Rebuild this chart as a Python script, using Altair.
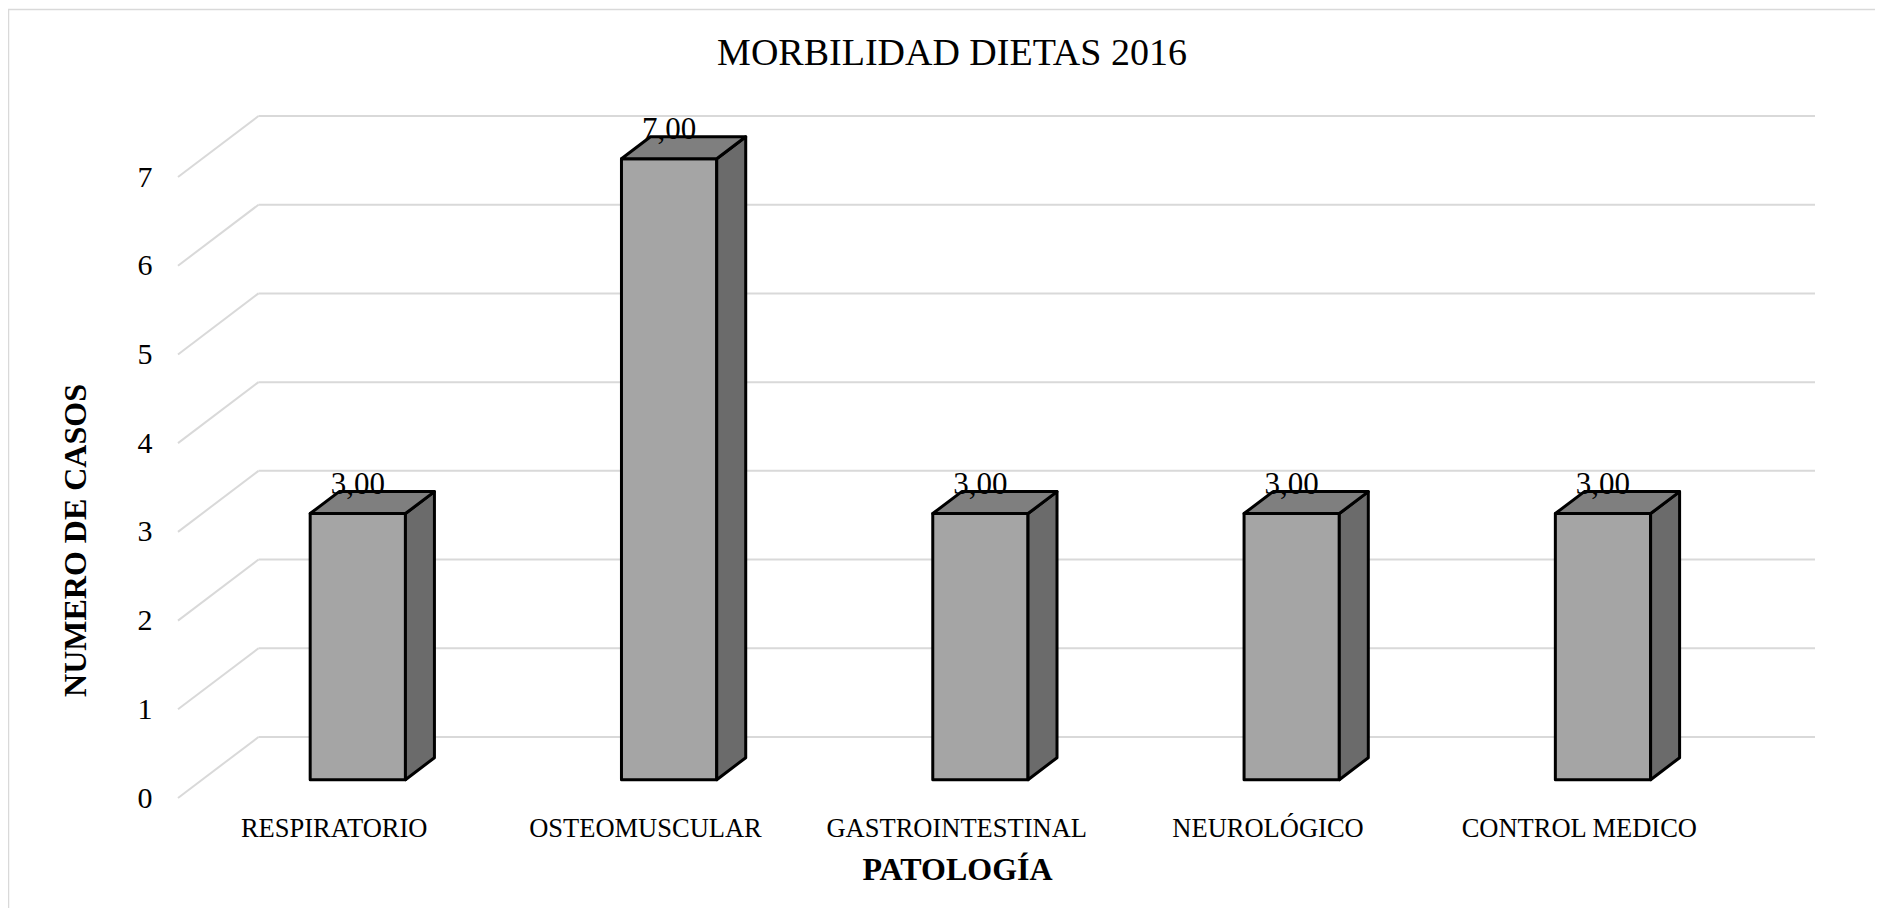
import json
import altair as alt
import pandas as pd

# ---------------- data ----------------
CATEGORIES = ["RESPIRATORIO", "OSTEOMUSCULAR", "GASTROINTESTINAL", "NEUROLÓGICO", "CONTROL MEDICO"]
VALUES = [3, 7, 3, 3, 3]
Y_TICKS = [0, 1, 2, 3, 4, 5, 6, 7]
TITLE = "MORBILIDAD DIETAS 2016"
X_TITLE = "PATOLOGÍA"
Y_TITLE = "NUMERO DE CASOS"

# ---------------- pseudo-3D geometry (style, in data units) ----------------
DX, DY = 0.2587, 0.688        # depth of the floor (x units, y units)
F0, F1 = 0.30, 0.66           # bar front / back position inside the depth
HW = 0.153                    # half width of a bar
XMIN = -0.5
XMAX = len(CATEGORIES) - 0.5 + DX
YMAX = max(Y_TICKS) + DY
W, H = 1637, 682
FONT = "Liberation Serif"

# faces of each bar as polygons (area marks)
rows = []
for i, v in enumerate(VALUES):
    xl, xr = i - HW, i + HW
    ax0, ay0 = F0 * DX, F0 * DY
    ax1, ay1 = F1 * DX, F1 * DY
    rows += [
        dict(face="front", id=f"{i}a", x=xl + ax0, y=v + ay0, y2=ay0),
        dict(face="front", id=f"{i}a", x=xr + ax0, y=v + ay0, y2=ay0),
        dict(face="side", id=f"{i}b", x=xr + ax0, y=v + ay0, y2=ay0),
        dict(face="side", id=f"{i}b", x=xr + ax1, y=v + ay1, y2=ay1),
        dict(face="top", id=f"{i}c", x=xl + ax0, y=v + ay0, y2=v + ay0),
        dict(face="top", id=f"{i}c", x=xl + ax1, y=v + ay1, y2=v + ay0),
        dict(face="top", id=f"{i}c", x=xr + ax0, y=v + ay1, y2=v + ay0),
        dict(face="top", id=f"{i}c", x=xr + ax1, y=v + ay1, y2=v + ay1),
    ]
faces = pd.DataFrame(rows)

labels = pd.DataFrame({
    "x": [i + F0 * DX for i in range(len(VALUES))],
    "y": [v + F0 * DY for v in VALUES],
    "txt": [f"{v:.2f}".replace(".", ",") for v in VALUES],
})

grid_back = pd.DataFrame({
    "x": [XMIN + DX] * len(Y_TICKS),
    "x2": [XMAX] * len(Y_TICKS),
    "y": [k + DY for k in Y_TICKS],
})
grid_side = pd.DataFrame({
    "x": [XMIN] * len(Y_TICKS),
    "x2": [XMIN + DX] * len(Y_TICKS),
    "y": Y_TICKS,
    "y2": [k + DY for k in Y_TICKS],
})

# ---------------- scales & axes ----------------
XS = alt.Scale(domain=[XMIN, XMAX], nice=False, zero=False)
YS = alt.Scale(domain=[0, YMAX], nice=False, zero=True)

X_AX = alt.Axis(
    values=list(range(len(CATEGORIES))),
    labelExpr=json.dumps(CATEGORIES, ensure_ascii=False) + "[datum.value]",
    domain=False, ticks=False, grid=False,
    labelFont=FONT, labelFontSize=26.5, labelColor="black", labelPadding=17,
    labelFlush=False, labelOverlap=False, labelBound=False, labelLimit=0,
    title=X_TITLE, titleFont=FONT, titleFontSize=32, titleFontWeight="bold",
    titleColor="black", titlePadding=13, titleX=779,
)
Y_AX = alt.Axis(
    values=Y_TICKS, format="d",
    domain=False, ticks=False, grid=False,
    labelFont=FONT, labelFontSize=30, labelColor="black", labelPadding=26,
    title=Y_TITLE, titleFont=FONT, titleFontSize=32, titleFontWeight="bold",
    titleColor="black", titlePadding=45, titleY=424,
)

def X(field="x"):
    return alt.X(f"{field}:Q", scale=XS, axis=X_AX)

def Y(field="y"):
    return alt.Y(f"{field}:Q", scale=YS, axis=Y_AX, stack=None)

GRID_COLOR = "#d9d9d9"

back = alt.Chart(grid_back).mark_rule(color=GRID_COLOR, strokeWidth=2).encode(
    x=X(), x2="x2:Q", y=Y()
)
side = alt.Chart(grid_side).mark_rule(color=GRID_COLOR, strokeWidth=2).encode(
    x=X(), x2="x2:Q", y=Y(), y2="y2:Q"
)

bars = alt.Chart(faces).mark_area(
    stroke="black", strokeWidth=3, strokeJoin="round", opacity=1, fillOpacity=1
).encode(
    x=X(), y=Y(), y2="y2:Q",
    detail="id:N",
    color=alt.Color("face:N", legend=None,
                    scale=alt.Scale(domain=["front", "side", "top"],
                                    range=["#a5a5a5", "#6b6b6b", "#7f7f7f"])),
)

texts = alt.Chart(labels).mark_text(
    font=FONT, fontSize=31, color="black", baseline="alphabetic", align="center", dy=-20
).encode(x=X(), y=Y(), text="txt:N")

frame_df = pd.DataFrame({"k": [0]})
frame_top = alt.Chart(frame_df).mark_rule(color=GRID_COLOR, strokeWidth=1.5).encode(
    x=alt.value(-170), x2=alt.value(W + 60), y=alt.value(-106.5)
)
frame_left = alt.Chart(frame_df).mark_rule(color=GRID_COLOR, strokeWidth=1.5).encode(
    x=alt.value(-169.5), y=alt.value(-107), y2=alt.value(H + 110)
)

chart = alt.layer(back, side, bars, texts, frame_top, frame_left).properties(
    width=W, height=H,
    background="white",
    padding={"left": 170, "top": 108, "right": 60, "bottom": 110},
    autosize=alt.AutoSizeParams(type="none"),
    title=alt.TitleParams(
        TITLE, font=FONT, fontSize=38, fontWeight="normal", color="black",
        anchor="middle", frame="group", baseline="alphabetic", dx=-44.5, offset=-95,
    ),
).configure_view(stroke=None)

chart.save("out.html", embed_options={"renderer": "svg", "actions": False})
